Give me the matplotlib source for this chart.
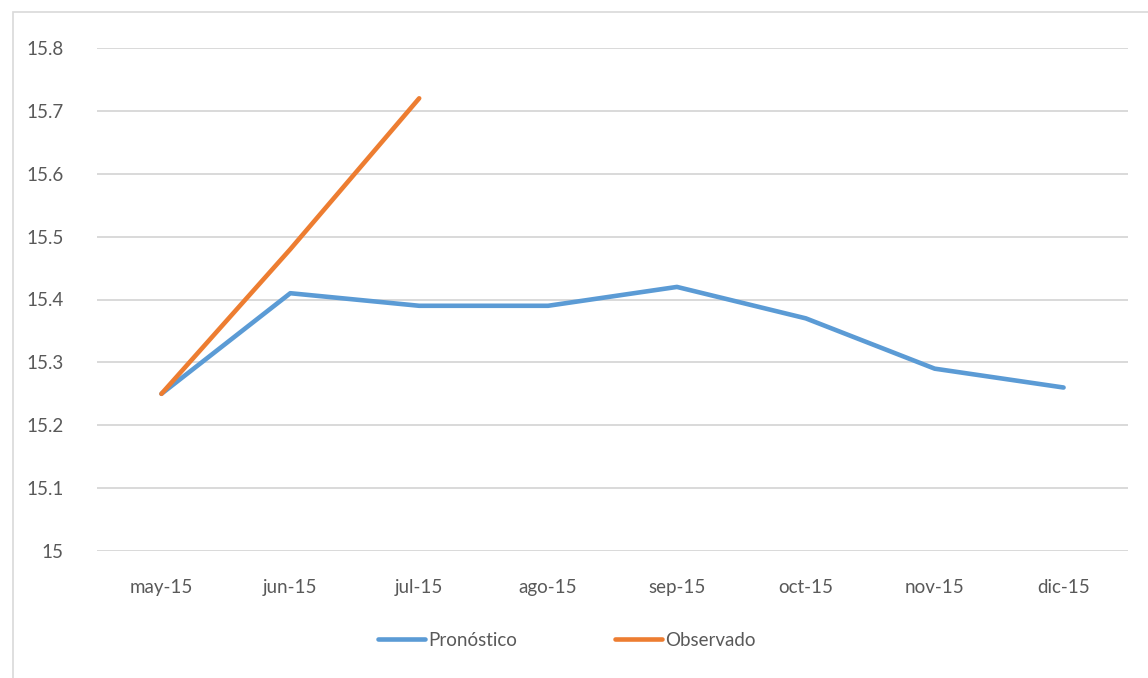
import matplotlib.pyplot as plt
from matplotlib.patches import Rectangle

# Data
meses = ["may-15", "jun-15", "jul-15", "ago-15", "sep-15", "oct-15", "nov-15", "dic-15"]
pronostico = [15.25, 15.41, 15.39, 15.39, 15.42, 15.37, 15.29, 15.26]
observado = [15.25, 15.48, 15.72]
y_ticks = [15, 15.1, 15.2, 15.3, 15.4, 15.5, 15.6, 15.7, 15.8]
y_labels = ["15", "15.1", "15.2", "15.3", "15.4", "15.5", "15.6", "15.7", "15.8"]

plt.rcParams['font.family'] = ['Lato', 'DejaVu Sans']

W, H = 1148, 678
fig = plt.figure(figsize=(W / 100, H / 100), dpi=100)
fig.patch.set_facecolor('white')

# chart area border
fig.patches.append(Rectangle((13 / W, -0.1), 1.2, 1.1 - 12 / H, transform=fig.transFigure,
                             fill=False, edgecolor='#d9d9d9', linewidth=1.2))

ax = fig.add_axes([97 / W, 1 - 551 / H, (1128 - 97) / W, (551 - 48) / H])

x = list(range(len(meses)))
ax.plot(x, pronostico, color='#5B9BD5', linewidth=3.3, solid_capstyle='round',
        solid_joinstyle='round', label='Pronóstico')
ax.plot(x[:len(observado)], observado, color='#ED7D31', linewidth=3.3, solid_capstyle='round',
        solid_joinstyle='round', label='Observado')

ax.set_xlim(-0.5, len(meses) - 0.5)
ax.set_ylim(15, 15.8)
ax.set_yticks(y_ticks)
ax.set_yticklabels(y_labels)
ax.set_xticks(x)
ax.set_xticklabels(meses)

ax.grid(axis='y', color='#d9d9d9', linewidth=1.4)
ax.set_axisbelow(True)
for s in ax.spines.values():
    s.set_visible(False)
ax.tick_params(axis='both', length=0, colors='#595959', labelsize=13.5)
ax.tick_params(axis='y', pad=24)
ax.tick_params(axis='x', pad=20)

fig.legend(loc='center', bbox_to_anchor=(567 / W, 1 - 640 / H), ncol=2, frameon=False,
           fontsize=13.5, handlelength=2.5, handletextpad=0.2, columnspacing=5.2,
           labelcolor='#595959')

fig.savefig('out.png', dpi=100)
